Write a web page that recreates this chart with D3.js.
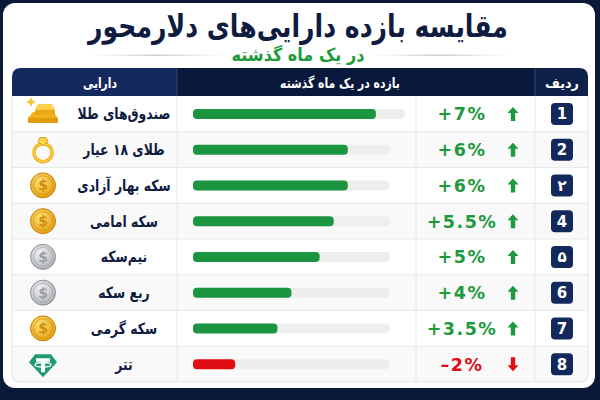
<!DOCTYPE html>
<html>
<head>
<meta charset="utf-8">
<title>مقایسه بازده دارایی‌های دلارمحور</title>
<script src="https://cdn.jsdelivr.net/npm/d3@7"></script>
<style>
  body { margin: 0; background: #0c1838; }
  svg { display: block; }
  text { font-family: "DejaVu Sans", "Noto Sans", sans-serif; }
</style>
</head>
<body>
<div id="chart"></div>
<script>
// data
var ranks = ["1", "2", "۲", "4", "۵", "6", "7", "8"];
var assets = ["صندوق‌های طلا", "طلای ۱۸ عیار", "سکه بهار آزادی", "سکه امامی", "نیم‌سکه", "ربع سکه", "سکه گرمی", "تتر"];
var returns = [7, 6, 6, 5.5, 5, 4, 3.5, -2];
var icons = ["bars", "ring", "gold", "gold", "silver", "silver", "gold", "tether"];
var headers = ["دارایی", "بازده در یک ماه گذشته", "ردیف"];

var w = 600, h = 400;
var navy = "#0f1c3f";
var green = "#1b9540", red = "#e20d14";

var svg = d3.select("#chart").append("svg")
    .attr("width", w)
    .attr("height", h);

var defs = svg.append("defs");

function radial(id, c1, c2) {
    var g = defs.append("radialGradient").attr("id", id)
        .attr("cx", "40%").attr("cy", "35%").attr("r", "70%");
    g.append("stop").attr("offset", "0%").attr("stop-color", c1);
    g.append("stop").attr("offset", "100%").attr("stop-color", c2);
}
radial("goldG", "#ffe27a", "#e29a0c");
radial("silverG", "#f4f4f4", "#a9adb3");

var lineG = defs.append("linearGradient").attr("id", "lineG");
lineG.append("stop").attr("offset", "0%").attr("stop-color", "#d7d9de").attr("stop-opacity", 0);
lineG.append("stop").attr("offset", "50%").attr("stop-color", "#c9ccd3");
lineG.append("stop").attr("offset", "100%").attr("stop-color", "#d7d9de").attr("stop-opacity", 0);

// card
svg.append("rect")
    .attr("x", 3).attr("y", 3)
    .attr("width", 592).attr("height", 385)
    .attr("rx", 12)
    .attr("fill", "#ffffff");

// squeeze text horizontally so it spans a given width
function fitX(sel, cx, by, target) {
    var len = sel.node().getComputedTextLength();
    sel.attr("x", 0).attr("y", 0)
        .attr("transform", "translate(" + cx + "," + by + ") scale(" + (target / len) + ",1)");
}

var title = svg.append("text")
    .attr("text-anchor", "middle")
    .attr("font-size", 31)
    .attr("font-weight", "bold")
    .attr("fill", navy)
    .text("مقایسه بازده دارایی‌های دلارمحور");
fitX(title, 298, 37, 420);

svg.append("rect").attr("x", 88).attr("y", 54.5).attr("width", 140).attr("height", 1.5).attr("fill", "url(#lineG)");
svg.append("rect").attr("x", 370).attr("y", 54.5).attr("width", 140).attr("height", 1.5).attr("fill", "url(#lineG)");

var sub = svg.append("text")
    .attr("text-anchor", "middle")
    .attr("font-size", 18)
    .attr("font-weight", "bold")
    .attr("fill", "#1c9a3c")
    .text("در یک ماه گذشته");
fitX(sub, 298, 61, 133);

// table layout
var left = 12, right = 588;
var colAsset = 177, colPct = 416, colRank = 535;
var headTop = 68, headBot = 96, bodyBot = 382;

var y = d3.scaleBand()
    .domain(d3.range(assets.length))
    .range([headBot, bodyBot]);

var barX0 = 193;
var x = d3.scaleLinear()
    .domain([0.5, 7.5])
    .range([0, 197]);

// header
defs.append("clipPath").attr("id", "headClip")
    .append("path")
    .attr("d", "M" + left + "," + headBot + " V" + (headTop + 9) +
        " Q" + left + "," + headTop + " " + (left + 9) + "," + headTop +
        " H" + (right - 9) + " Q" + right + "," + headTop + " " + right + "," + (headTop + 9) +
        " V" + headBot + " Z");

var head = svg.append("g").attr("clip-path", "url(#headClip)");
var headCols = [
    { x0: left, x1: colAsset, fill: "#142a5f" },
    { x0: colAsset, x1: colRank, fill: "#0a183b" },
    { x0: colRank, x1: right, fill: "#0f2049" }
];
head.selectAll("rect")
    .data(headCols)
    .enter()
    .append("rect")
    .attr("x", function (d) { return d.x0; })
    .attr("y", headTop)
    .attr("width", function (d) { return d.x1 - d.x0; })
    .attr("height", headBot - headTop)
    .attr("fill", function (d) { return d.fill; });

head.selectAll("line")
    .data([colAsset, colRank])
    .enter()
    .append("line")
    .attr("x1", function (d) { return d; })
    .attr("x2", function (d) { return d; })
    .attr("y1", headTop).attr("y2", headBot)
    .attr("stroke", "#33466f").attr("stroke-width", 1);

var headX = [100, 340, 562];
var headW = [34, 120, 34];
svg.selectAll("text.head")
    .data(headers)
    .enter()
    .append("text")
    .attr("class", "head")
    .attr("text-anchor", "middle")
    .attr("font-size", 14)
    .attr("font-weight", "bold")
    .attr("fill", "#ffffff")
    .text(function (d) { return d; })
    .each(function (d, i) { fitX(d3.select(this), headX[i], 87.5, headW[i]); });

// body rows
var body = svg.append("g");
body.selectAll("rect.row")
    .data(returns)
    .enter()
    .append("rect")
    .attr("class", "row")
    .attr("x", left)
    .attr("y", function (d, i) { return y(i); })
    .attr("width", right - left)
    .attr("height", y.bandwidth())
    .attr("fill", function (d, i) { return i % 2 ? "#f9f9fa" : "#ffffff"; });

body.selectAll("line.h")
    .data(d3.range(1, assets.length))
    .enter()
    .append("line")
    .attr("class", "h")
    .attr("x1", left).attr("x2", right)
    .attr("y1", function (d) { return y(d); })
    .attr("y2", function (d) { return y(d); })
    .attr("stroke", "#e8e8ea");

body.selectAll("line.v")
    .data([colAsset, colPct, colRank])
    .enter()
    .append("line")
    .attr("class", "v")
    .attr("x1", function (d) { return d; })
    .attr("x2", function (d) { return d; })
    .attr("y1", headBot).attr("y2", bodyBot)
    .attr("stroke", "#e8e8ea");

body.append("path")
    .attr("d", "M" + left + "," + headBot + " V" + (bodyBot - 8) +
        " Q" + left + "," + bodyBot + " " + (left + 8) + "," + bodyBot +
        " H" + (right - 8) + " Q" + right + "," + bodyBot + " " + right + "," + (bodyBot - 8) +
        " V" + headBot)
    .attr("fill", "none")
    .attr("stroke", "#e2e3e6");

function cy(i) { return y(i) + y.bandwidth() / 2; }

// bars
svg.selectAll("rect.track")
    .data(returns)
    .enter()
    .append("rect")
    .attr("class", "track")
    .attr("x", barX0)
    .attr("y", function (d, i) { return cy(i) - 5; })
    .attr("width", function (d) { return Math.max(x.range()[1], x(Math.abs(d)) + 29); })
    .attr("height", 10)
    .attr("rx", 5)
    .attr("fill", "#eeeeef");

svg.selectAll("rect.bar")
    .data(returns)
    .enter()
    .append("rect")
    .attr("class", "bar")
    .attr("x", barX0)
    .attr("y", function (d, i) { return cy(i) - 5; })
    .attr("width", function (d) { return x(Math.abs(d)); })
    .attr("height", 10)
    .attr("rx", 4)
    .attr("fill", function (d) { return d >= 0 ? green : red; });

// percent labels
svg.selectAll("text.pct")
    .data(returns)
    .enter()
    .append("text")
    .attr("class", "pct")
    .attr("x", 462)
    .attr("y", function (d, i) { return cy(i) + 6.5; })
    .attr("text-anchor", "middle")
    .attr("font-family", "'Open Sans', Lato, sans-serif")
    .attr("font-size", 17.5)
    .attr("font-weight", "bold")
    .attr("letter-spacing", 1.5)
    .attr("fill", function (d) { return d >= 0 ? "#1e9a3e" : red; })
    .text(function (d) { return (d >= 0 ? "+" : "\u2013") + Math.abs(d) + "%"; });

// arrows
var arrowUp = "M0,-7 L5.5,-1 L2.2,-1 L2.2,7 L-2.2,7 L-2.2,-1 L-5.5,-1 Z";
svg.selectAll("path.arrow")
    .data(returns)
    .enter()
    .append("path")
    .attr("class", "arrow")
    .attr("d", arrowUp)
    .attr("transform", function (d, i) {
        return "translate(513," + cy(i) + ")" + (d < 0 ? " rotate(180)" : "");
    })
    .attr("fill", function (d) { return d >= 0 ? "#1e9a3e" : red; });

// rank badges
svg.selectAll("rect.badge")
    .data(ranks)
    .enter()
    .append("rect")
    .attr("class", "badge")
    .attr("x", 551)
    .attr("y", function (d, i) { return cy(i) - 11; })
    .attr("width", 22).attr("height", 22)
    .attr("rx", 4)
    .attr("fill", "#13295b");

svg.selectAll("text.rank")
    .data(ranks)
    .enter()
    .append("text")
    .attr("class", "rank")
    .attr("x", 562)
    .attr("y", function (d, i) { return cy(i) + 5.5; })
    .attr("text-anchor", "middle")
    .attr("font-size", 15)
    .attr("font-weight", "bold")
    .attr("fill", "#ffffff")
    .text(function (d) { return d; });

// asset names
svg.selectAll("text.asset")
    .data(assets)
    .enter()
    .append("text")
    .attr("class", "asset")
    .attr("text-anchor", "middle")
    .attr("font-size", 15.5)
    .attr("font-weight", "bold")
    .attr("fill", navy)
    .attr("transform", function (d, i) { return "translate(124," + (cy(i) + 5.5) + ") scale(0.8,1)"; })
    .text(function (d) { return d; });

// icons
var ic = svg.selectAll("g.icon")
    .data(icons)
    .enter()
    .append("g")
    .attr("class", "icon")
    .attr("transform", function (d, i) { return "translate(43," + cy(i) + ")"; });

ic.each(function (kind) {
    var g = d3.select(this);
    if (kind === "gold" || kind === "silver") {
        var fill = kind === "gold" ? "url(#goldG)" : "url(#silverG)";
        var edge = kind === "gold" ? "#c98207" : "#8d9298";
        var mark = kind === "gold" ? "#d18e0a" : "#9a9ea4";
        g.append("circle").attr("r", 12.5).attr("fill", fill).attr("stroke", edge).attr("stroke-width", 1);
        g.append("circle").attr("r", 9.5).attr("fill", "none").attr("stroke", mark).attr("stroke-width", 1).attr("opacity", 0.6);
        g.append("text").attr("y", 5).attr("text-anchor", "middle")
            .attr("font-size", 14).attr("font-weight", "bold").attr("fill", mark).text("$");
    } else if (kind === "ring") {
        g.append("circle").attr("cy", 3).attr("r", 9).attr("fill", "none")
            .attr("stroke", "#f0b21a").attr("stroke-width", 3.5);
        g.append("circle").attr("cy", 3).attr("r", 9).attr("fill", "none")
            .attr("stroke", "#ffdc6a").attr("stroke-width", 1);
        g.append("path").attr("d", "M-5,-8 L-3,-12 L3,-12 L5,-8 L0,-4 Z")
            .attr("fill", "#ffd54a").attr("stroke", "#d99a0c").attr("stroke-width", 1);
    } else if (kind === "bars") {
        g.append("path").attr("d", "M-15,4 L-10,-2 L10,-2 L15,4 L15,9 L-15,9 Z").attr("fill", "#f2b41c");
        g.append("path").attr("d", "M-15,4 L15,4 L15,9 L-15,9 Z").attr("fill", "#e09a10");
        g.append("path").attr("d", "M-8,-4 L-5,-10 L9,-10 L12,-4 L12,1 L-8,1 Z").attr("fill", "#ffd04a");
        g.append("path").attr("d", "M-8,-4 L12,-4 L12,1 L-8,1 Z").attr("fill", "#eaa915");
        g.append("path").attr("d", "M-12,-17 L-10.5,-13.5 L-7,-12 L-10.5,-10.5 L-12,-7 L-13.5,-10.5 L-17,-12 L-13.5,-13.5 Z")
            .attr("fill", "#f7c52a");
    } else if (kind === "tether") {
        g.append("path").attr("d", "M-8,-10 L8,-10 L14,-2 L0,13 L-14,-2 Z").attr("fill", "#1f9a72");
        g.append("path").attr("d", "M-7,-6 H7 V-2.5 H2 V8 H-2 V-2.5 H-7 Z").attr("fill", "#ffffff");
        g.append("ellipse").attr("cy", 0.5).attr("rx", 8).attr("ry", 2.2)
            .attr("fill", "none").attr("stroke", "#ffffff").attr("stroke-width", 1.4);
    }
});
</script>
</body>
</html>
